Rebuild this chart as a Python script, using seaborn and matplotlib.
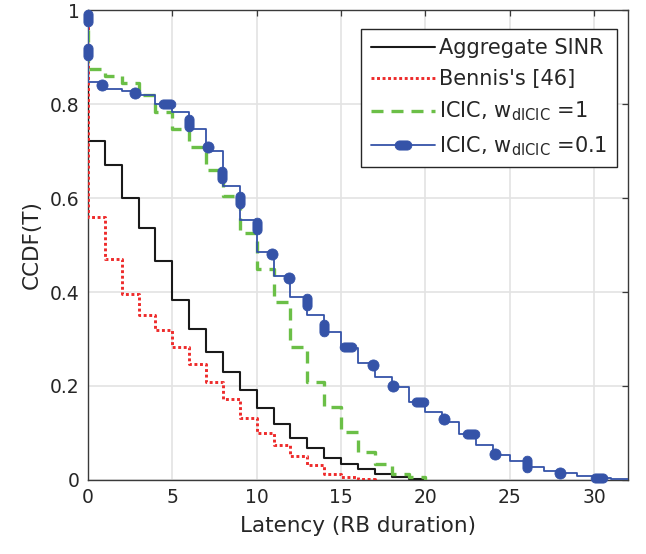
import numpy as np
import seaborn as sns
import matplotlib
matplotlib.use('Agg')
import matplotlib.pyplot as plt
from matplotlib.path import Path
from matplotlib.lines import Line2D

# CCDF step curves (x = latency in RB durations)
agg_x = [0, 0, 1, 2, 3, 4, 5, 6, 7, 8, 9, 10, 11, 12, 13, 14, 15, 16, 17, 18, 19, 20]
agg_y = [1, 0.722, 0.670, 0.599, 0.537, 0.467, 0.384, 0.321, 0.272, 0.230, 0.191,
         0.154, 0.120, 0.089, 0.067, 0.047, 0.034, 0.023, 0.013, 0.007, 0.002, 0]

bennis_x = [0, 0, 1, 2, 3, 4, 5, 6, 7, 8, 9, 10, 11, 12, 13, 14, 15, 16, 17]
bennis_y = [1, 0.559, 0.470, 0.396, 0.351, 0.320, 0.284, 0.246, 0.208, 0.172,
            0.131, 0.099, 0.074, 0.052, 0.032, 0.012, 0.007, 0.003, 0]

icic1_x = [0, 0, 1, 2, 3, 4, 5, 6, 7, 8, 9, 10, 11, 12, 13, 14, 15, 16, 17, 18, 19, 20]
icic1_y = [1, 0.874, 0.860, 0.844, 0.820, 0.784, 0.747, 0.709, 0.660, 0.604, 0.525,
           0.450, 0.379, 0.284, 0.209, 0.155, 0.103, 0.060, 0.035, 0.013, 0.007, 0]

icic01_x = [0, 0, 1, 2, 3, 4, 5, 6, 7, 8, 9, 10, 11, 12, 13, 14, 15, 16, 17, 18, 19,
            20, 21, 22, 23, 24, 25, 26, 27, 28, 29, 30, 31, 33]
icic01_y = [1, 0.847, 0.833, 0.828, 0.819, 0.800, 0.784, 0.747, 0.700, 0.625, 0.553,
            0.486, 0.435, 0.389, 0.351, 0.315, 0.281, 0.248, 0.220, 0.198, 0.166,
            0.145, 0.124, 0.097, 0.074, 0.053, 0.041, 0.028, 0.020, 0.014, 0.009,
            0.005, 0.002, 0]

# marker blobs on the ICIC w=0.1 curve (v = vertical pill, h = horizontal pill, o = round)
mark_x = [0, 0, 0.86, 2.8, 4.7, 6.0, 7.1, 7.97, 9.0, 10.0, 10.9, 11.9, 13.0, 14.0,
          15.4, 16.9, 18.1, 19.7, 21.1, 22.7, 24.1, 26.0, 28.0, 30.3]
mark_y = [0.984, 0.91, 0.841, 0.824, 0.800, 0.76, 0.708, 0.649, 0.596, 0.541, 0.481,
          0.430, 0.378, 0.324, 0.284, 0.245, 0.200, 0.165, 0.130, 0.097, 0.055,
          0.034, 0.014, 0.005]
mark_kind = ['v', 'v', 'o', 'o', 'h', 'v', 'o', 'v', 'v', 'v', 'o', 'o', 'v', 'v',
             'h', 'o', 'o', 'h', 'o', 'h', 'o', 'v', 'o', 'h']

labels = ['Aggregate SINR', "Bennis's [46]",
          'ICIC, w$_{\\mathregular{dICIC}}$ =1', 'ICIC, w$_{\\mathregular{dICIC}}$ =0.1']

c_black = '#1a1a1a'
c_red = '#ee2a2a'
c_green = '#6bbf47'
c_blue = '#3553a8'


def pill(vertical=True, r=0.55):
    # stadium outline, long side 2 units before marker normalisation
    t = np.linspace(0, np.pi, 24)
    top = np.column_stack([r * np.cos(t), (1 - r) + r * np.sin(t)])
    bot = np.column_stack([-r * np.cos(t), -(1 - r) - r * np.sin(t)])
    verts = np.vstack([top, bot, top[:1]])
    if not vertical:
        verts = verts[:, ::-1]
    codes = [Path.MOVETO] + [Path.LINETO] * (len(verts) - 2) + [Path.CLOSEPOLY]
    return Path(verts, codes)


vpill = pill(True)
hpill = pill(False)

sns.set_style('white')
plt.rcParams['font.family'] = ['DejaVu Sans']

fig, ax = plt.subplots(figsize=(6.46, 5.54), dpi=100)
fig.subplots_adjust(left=0.1362, right=0.9721, bottom=0.1336, top=0.9819)

sns.lineplot(x=agg_x, y=agg_y, ax=ax, estimator=None, sort=False, drawstyle='steps-post',
             color=c_black, lw=1.5, zorder=3)
sns.lineplot(x=bennis_x, y=bennis_y, ax=ax, estimator=None, sort=False, drawstyle='steps-post',
             color=c_red, lw=2.1, dashes=(1.0, 0.9), zorder=4)
sns.lineplot(x=icic1_x, y=icic1_y, ax=ax, estimator=None, sort=False, drawstyle='steps-post',
             color=c_green, lw=2.4, dashes=(3.6, 2.4), zorder=5)
sns.lineplot(x=icic01_x, y=icic01_y, ax=ax, estimator=None, sort=False, drawstyle='steps-post',
             color=c_blue, lw=1.3, zorder=6)

mx = np.array(mark_x)
my = np.array(mark_y)
mk = np.array(mark_kind)
for kind, m, size in [('v', vpill, 12.0), ('h', hpill, 12.0), ('o', 'o', 8.0)]:
    sel = mk == kind
    sns.scatterplot(x=mx[sel], y=my[sel], ax=ax, marker=m, s=size ** 2, color=c_blue,
                    edgecolor=c_blue, linewidth=0.6, zorder=7, clip_on=False)

ax.set_xlim(0, 32)
ax.set_ylim(0, 1)
ax.set_xticks([0, 5, 10, 15, 20, 25, 30])
ax.set_yticks([0, 0.2, 0.4, 0.6, 0.8, 1])
ax.set_yticklabels(['0', '0.2', '0.4', '0.6', '0.8', '1'])
ax.grid(True, color='#e3e3e3', lw=1.2)
ax.set_axisbelow(True)
for sp in ax.spines.values():
    sp.set_color('#3a3a3a')
    sp.set_linewidth(1.0)
ax.tick_params(direction='in', length=4, width=0.9, top=True, right=True,
               labelsize=13.5, colors='#3a3a3a', labelcolor='#262626', pad=6)
ax.set_xlabel('Latency (RB duration)', fontsize=15.5, color='#262626', labelpad=6)
ax.set_ylabel('CCDF(T)', fontsize=15.5, color='#262626', labelpad=6)

handles = [
    Line2D([], [], color=c_black, lw=1.5),
    Line2D([], [], color=c_red, lw=2.1, dashes=(1.0, 0.9)),
    Line2D([], [], color=c_green, lw=2.4, dashes=(3.6, 2.4)),
    Line2D([], [], color=c_blue, lw=1.3, marker=hpill, markersize=12,
           markeredgewidth=0.6, markeredgecolor=c_blue),
]
leg = ax.legend(handles, labels, loc='upper right', bbox_to_anchor=(0.98, 0.96),
                borderaxespad=0, fancybox=False, framealpha=1, edgecolor='#262626',
                fontsize=15, handlelength=3.1, handletextpad=0.2, labelspacing=0.52,
                borderpad=0.45)
leg.get_frame().set_linewidth(1.0)
for t in leg.get_texts():
    t.set_color('#262626')

fig.savefig('out.png', dpi=100)
